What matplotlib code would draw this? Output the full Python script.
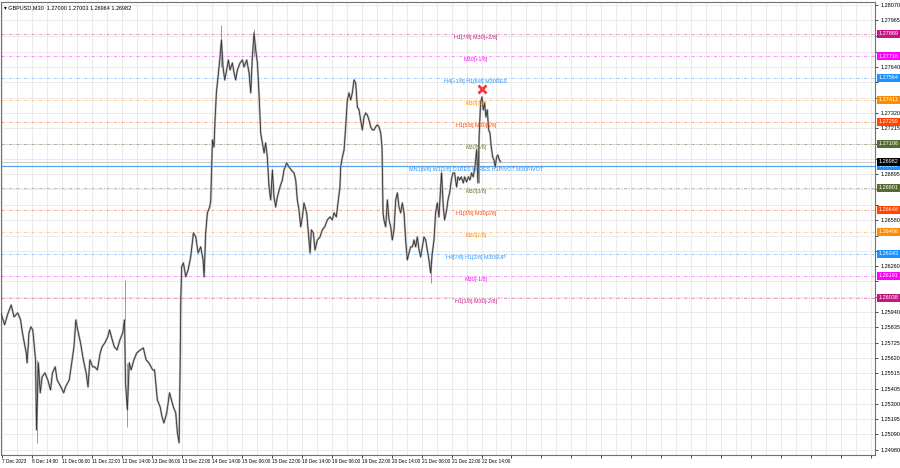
import numpy as np
import matplotlib.pyplot as plt

plt.rcParams['font.family'] = ['Liberation Sans', 'DejaVu Sans']

# M30 bar index (time) and close price
bars = [0, 4, 7, 11, 14, 18, 21, 23, 27, 28, 30, 32, 34, 37, 38, 40, 42, 44, 47, 50,
        53, 55, 58, 60, 64, 67, 69, 73, 75, 78, 80, 82, 85, 88, 91, 93, 95, 98, 100, 103,
        106, 108, 111, 114, 116, 118, 121, 124, 127, 130, 132, 133, 135, 137, 139, 142, 145, 149, 152, 155,
        158, 162, 164, 167, 170, 172, 174, 177, 180,
        184.1, 186.6, 188.4, 190.2, 191.3, 192, 193, 194.8, 197.3, 199.8,
        202.6, 205.5, 208, 210.5, 213.3, 215.8, 216.9, 218.6, 220.4, 222.9,
        224, 225.8, 227.5, 228.6, 230, 231.8, 233.6, 235.4, 237.1, 238.9,
        241, 242.8, 244.6, 247.1, 248.9, 250.6, 252.4, 255.3, 257.8, 259.5,
        262.4, 264.9, 266.7, 268.4, 270.2, 272, 273.8, 275.5, 277.3, 279.1,
        280.9, 282.6, 284.4, 286.2, 288, 289.8, 291.5, 293.3, 295.1, 297.9,
        300.4, 302.2, 305, 307.5, 310, 312.9, 314.7, 316.4, 318.2, 320,
        321.8, 323.5, 326.4, 328.2, 330, 331.4, 333.5, 335.3, 337.8, 340.6,
        343.1, 345.6, 348.4, 351.3, 353.8, 355.5, 358, 360.2, 361.9,
        362.7, 364.5, 366.3, 368, 369.8, 371.6, 373.4, 375.1, 376.9, 378.7,
        380.5, 382.3, 384, 385.8, 387.6, 389.4, 391.1, 392.9, 394.7, 396.5,
        398.3, 400, 401.8, 403.6, 405.4, 406.8, 407.9, 408.9, 410.7, 412.5,
        414.3, 416.1, 417.8, 419.6, 421.4, 423.2, 424.9, 426.7, 428.5, 430.3,
        432.0, 433.8, 435.6, 437.4, 439.2, 440.9, 442.7, 444.5, 446.3, 448.0,
        449.8, 451.6, 453.4, 455.2, 456.9, 458.7, 460.5, 462.3, 464.0, 465.8,
        467.6, 469.4, 470.4, 472.2, 473.6, 475.8, 477.2, 479.0, 480.8, 482.5,
        484.3, 486.4, 487.9, 489.6, 491.4, 493.6, 495.0, 497.1, 498.9, 500.7,
        502.4, 504.2, 506.0, 507.8, 509.2, 510.6, 512.0, 513.5, 514.9, 516.3,
        517.7, 519.2, 520.6, 522.0, 523.4, 524.9, 526.3, 527.7, 529.1, 530.5,
        532.0, 533.4]
closes = [1.25933, 1.25850, 1.25919, 1.25988, 1.25905, 1.25933, 1.25884, 1.25794, 1.25655, 1.25586,
          1.25794, 1.25836, 1.25815, 1.25607, 1.25121, 1.25586, 1.25378, 1.25489, 1.25516, 1.25468,
          1.25398, 1.25516, 1.25558, 1.25468, 1.25419, 1.25378, 1.25419, 1.25468, 1.25558, 1.25697,
          1.25884, 1.25815, 1.25725, 1.25607, 1.25516, 1.25419, 1.25607, 1.25558, 1.25558, 1.25537,
          1.25655, 1.25697, 1.25725, 1.25766, 1.25815, 1.25766, 1.25697, 1.25676, 1.25745, 1.25794,
          1.25884, 1.25447, 1.25260, 1.25586, 1.25537, 1.25607, 1.25655, 1.25676, 1.25690, 1.25607,
          1.25586, 1.25537, 1.25537, 1.25329, 1.25280, 1.25211, 1.25169, 1.25239, 1.25378,
          1.25280, 1.25239, 1.25100, 1.25031, 1.25558, 1.26023, 1.26252, 1.26280, 1.26183, 1.26231,
          1.26321, 1.26488, 1.26460, 1.26349, 1.26391, 1.26301, 1.26183, 1.26488, 1.26627, 1.26668,
          1.26717, 1.27133, 1.27085, 1.27272, 1.27460, 1.27571, 1.27689, 1.27827, 1.27640, 1.27550,
          1.27619, 1.27689, 1.27619, 1.27668, 1.27598, 1.27550, 1.27619, 1.27668, 1.27689, 1.27640,
          1.27689, 1.27598, 1.27460, 1.27709, 1.27876, 1.27758, 1.27668, 1.27460, 1.27182, 1.27113,
          1.27043, 1.27113, 1.27015, 1.26807, 1.26717, 1.26925, 1.26738, 1.26668, 1.26738, 1.26807,
          1.26856, 1.26925, 1.26974, 1.26946, 1.26925, 1.26904, 1.26856, 1.26717, 1.26648, 1.26530,
          1.26599, 1.26696, 1.26627, 1.26488, 1.26349, 1.26509, 1.26488, 1.26370, 1.26439, 1.26460,
          1.26509, 1.26530, 1.26578, 1.26599, 1.26578, 1.26627, 1.26599, 1.26717, 1.26807,
          1.26946, 1.27015, 1.27064, 1.27224, 1.27411, 1.27460, 1.27411, 1.27460, 1.27550, 1.27529,
          1.27362, 1.27342, 1.27272, 1.27203, 1.27293, 1.27321, 1.27307, 1.27272, 1.27224, 1.27203,
          1.27203, 1.27224, 1.27238, 1.27224, 1.27182, 1.27085, 1.26627, 1.26578, 1.26530, 1.26717,
          1.26578, 1.26530, 1.26439, 1.26509, 1.26717, 1.26766, 1.26668, 1.26627, 1.26696, 1.26627,
          1.26439, 1.26301, 1.26349, 1.26391, 1.26391, 1.26439, 1.26391, 1.26460, 1.26370, 1.26321,
          1.26391, 1.26460, 1.26439, 1.26370, 1.26301, 1.26210, 1.26349, 1.26439, 1.26627, 1.26696,
          1.26599, 1.26807, 1.26904, 1.26668, 1.26578, 1.26648, 1.26717, 1.26766, 1.26856, 1.26904,
          1.26904, 1.26807, 1.26877, 1.26856, 1.26877, 1.26835, 1.26877, 1.26842, 1.26877, 1.26856,
          1.26904, 1.26877, 1.26946, 1.27064, 1.26835, 1.27182, 1.27390, 1.27432, 1.27342, 1.27390,
          1.27293, 1.27342, 1.27203, 1.27182, 1.27085, 1.27015, 1.26995, 1.26946, 1.27015, 1.27029,
          1.26995, 1.26982]

# long wicks
wick_bar = [38, 132, 135, 235.4, 270.2, 458.7, 510.6]
wick_hi = [1.25607, 1.26162, 1.25586, 1.27932, 1.27904, 1.26349, 1.27064]
wick_lo = [1.25031, 1.25884, 1.25142, 1.27640, 1.27709, 1.26141, 1.26835]

# Murrey math levels
level_px = [1.27869, 1.27716, 1.27564, 1.27411, 1.27259, 1.27106, 1.26953,
            1.26801, 1.26648, 1.26496, 1.26343, 1.26191, 1.26038]
level_col = ['#C71585', '#FF00FF', '#1E90FF', '#FF8C00', '#FF4500', '#556B2F', '#1E90FF',
             '#556B2F', '#FF4500', '#FF8C00', '#1E90FF', '#FF00FF', '#C71585']
level_txt = ['H1[7/8] M30[+2/8]', 'M30[+1/8]', 'H4[+1/8] H1[6/8] M30RES', 'M30[7/8]',
             'H1[5/8] M30[6/8]', 'M30[5/8]', 'MN1[6/8] W1[2/8] D1RES H4RES H1PIVOT M30PIVOT',
             'M30[3/8]', 'H1[3/8] M30[2/8]', 'M30[1/8]', 'H4[7/8] H1[2/8] M30SUP',
             'M30[-1/8]', 'H1[1/8] M30[-2/8]']

bid = 1.26982
mark_bar, mark_px = 514, 1.27487

ytick_vals = [1.28070, 1.27965, 1.27855, 1.27745, 1.27640, 1.27535, 1.27425, 1.27320, 1.27215, 1.27105,
              1.27000, 1.26895, 1.26790, 1.26685, 1.26580, 1.26470, 1.26365, 1.26260, 1.26155, 1.26045,
              1.25940, 1.25835, 1.25725, 1.25620, 1.25515, 1.25405, 1.25300, 1.25195, 1.25090, 1.24980]
xtick_labels = ['7 Dec 2023', '8 Dec 14:00', '11 Dec 06:00', '11 Dec 22:00', '12 Dec 14:00',
                '13 Dec 06:00', '13 Dec 22:00', '14 Dec 14:00', '15 Dec 06:00', '15 Dec 22:00',
                '18 Dec 14:00', '19 Dec 06:00', '19 Dec 22:00', '20 Dec 14:00', '21 Dec 06:00',
                '21 Dec 22:00', '22 Dec 14:00']

fig = plt.figure(figsize=(9, 4.68), dpi=100)
ax = fig.add_axes([0.001, 0.028, 0.9712, 0.9677])
ax.set_xlim(0, 933)
ax.set_ylim(1.24947, 1.28091)

# grid
xmaj = [1 + 32 * k for k in range(30)]
xmin = [17 + 32 * k for k in range(29)]
for xv in xmaj + xmin:
    ax.axvline(xv, color='#e8e8e8', lw=0.6, zorder=0)
for yv in ytick_vals:
    ax.axhline(yv, color='#e8e8e8', lw=0.6, zorder=0)

# levels
for p, c, t in zip(level_px, level_col, level_txt):
    if t.startswith('MN1'):
        ax.axhline(p, color='#5aa5f0', lw=0.9, zorder=1)
    else:
        ax.axhline(p, color=c, lw=0.6, alpha=0.5, ls=(0, (4, 2, 1, 2)), zorder=1)
    tc = '#6b7a2a' if c == '#556B2F' else c
    ax.annotate(t, (507, p), xytext=(0, -0.8), textcoords='offset points',
                ha='center', va='top', fontsize=3.9, color=tc, zorder=6)
ax.axhline(bid, color='#b0b0b0', lw=0.5, zorder=1)

# price
ax.plot(bars, closes, color='#b4b4b4', lw=1.5, zorder=2)
ax.plot(bars, closes, color='#333333', lw=0.6, zorder=3)
ax.vlines(wick_bar, wick_lo, wick_hi, color='#9a9a9a', lw=0.7, zorder=2)

ax.plot(mark_bar, mark_px, marker='x', color='#f03c3c', ms=6, mew=2, zorder=7)

# axes look
for s in ax.spines.values():
    s.set_color('#707070')
    s.set_linewidth(0.8)

# tick labels sitting under a price box are hidden, like in the terminal
box_vals = level_px + [bid]
ylabs = ['' if min(abs(v - b) for b in box_vals) < 0.0004 else '%.5f' % v for v in ytick_vals]
ax.yaxis.tick_right()
ax.set_yticks(ytick_vals)
ax.set_yticklabels(ylabs)
ax.tick_params(axis='y', labelsize=4, length=2, pad=2, width=0.5)
ax.set_xticks(xmaj)
ax.set_xticklabels(xtick_labels + [''] * (len(xmaj) - len(xtick_labels)), ha='left')
ax.tick_params(axis='x', labelsize=3.4, length=2, pad=1, width=0.5)

# price boxes on the right axis
for p, c in zip(level_px, level_col):
    ax.text(1.004, p, '%.5f' % p, transform=ax.get_yaxis_transform(), va='center', ha='left',
            fontsize=4, color='white', zorder=8, clip_on=False,
            bbox=dict(boxstyle='square,pad=0.25', fc=c, ec='none'))
ax.text(1.004, bid, '%.5f' % bid, transform=ax.get_yaxis_transform(), va='center', ha='left',
        fontsize=4, color='white', zorder=9, clip_on=False,
        bbox=dict(boxstyle='square,pad=0.25', fc='black', ec='none'))

ax.text(0.004, 0.992, '\u25be GBPUSD,M30  1.27000 1.27003 1.26964 1.26982', transform=ax.transAxes,
        fontsize=4, va='top', ha='left', family=['Liberation Sans', 'DejaVu Sans'])

fig.savefig('out.png', dpi=100)
